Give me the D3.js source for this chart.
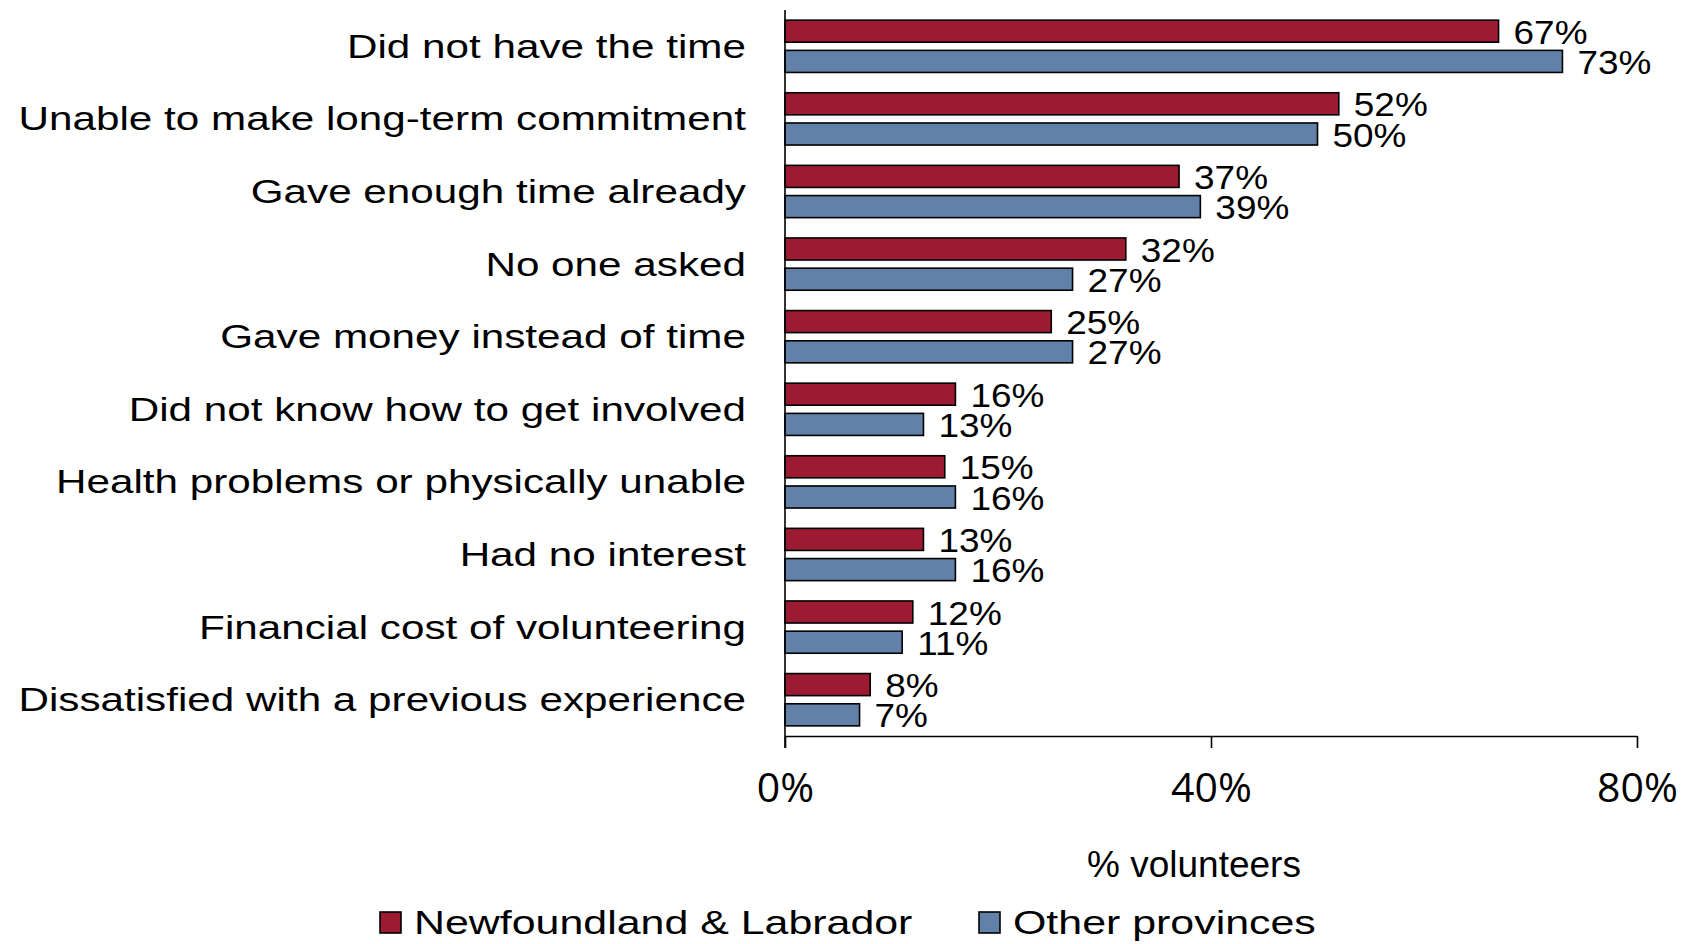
<!DOCTYPE html>
<html>
<head>
<meta charset="utf-8">
<script src="https://cdn.jsdelivr.net/npm/d3@7"></script>
<style>
  html, body { margin: 0; padding: 0; background: #fff; }
  svg { display: block; }
  text { font-family: "Liberation Sans", Arial, sans-serif; fill: #000; }
</style>
</head>
<body>
<svg id="chart" width="1683" height="944"></svg>
<script>
const categories = [
  "Did not have the time",
  "Unable to make long-term commitment",
  "Gave enough time already",
  "No one asked",
  "Gave money instead of time",
  "Did not know how to get involved",
  "Health problems or physically unable",
  "Had no interest",
  "Financial cost of volunteering",
  "Dissatisfied with a previous experience"
];
const seriesNames = ["Newfoundland & Labrador", "Other provinces"];
const nlValues = [67, 52, 37, 32, 25, 16, 15, 13, 12, 8];
const otherValues = [73, 50, 39, 27, 27, 13, 16, 16, 11, 7];
const xTicks = [0, 40, 80];
const xTickLabels = ["0%", "40%", "80%"];
const axisTitle = "% volunteers";
const colors = ["#9D1B32", "#6181A9"];

const svg = d3.select("#chart");
const plotLeft = 785, plotRight = 1637, plotTop = 10, plotBottom = 736;

const x = d3.scaleLinear().domain([0, 80]).range([plotLeft, plotRight]);
const y = d3.scaleBand().domain(categories).range([plotTop, plotBottom])
  .paddingInner(0.28).paddingOuter(0.14);
const ySub = d3.scaleBand().domain(seriesNames).range([0, y.bandwidth()])
  .paddingInner(0.27);

const data = categories.map((c, i) => ({
  cat: c,
  vals: [
    { s: seriesNames[0], v: nlValues[i], color: colors[0] },
    { s: seriesNames[1], v: otherValues[i], color: colors[1] }
  ]
}));

// bars
const groups = svg.selectAll("g.cat").data(data).join("g")
  .attr("class", "cat")
  .attr("transform", d => `translate(0,${y(d.cat)})`);

groups.selectAll("rect").data(d => d.vals).join("rect")
  .attr("x", x(0))
  .attr("y", d => ySub(d.s))
  .attr("width", d => x(d.v) - x(0))
  .attr("height", ySub.bandwidth())
  .attr("fill", d => d.color)
  .attr("stroke", "#000")
  .attr("stroke-width", 1.6);

// value labels
const lblSize = 33;
groups.selectAll("text.val").data(d => d.vals).join("text")
  .attr("class", "val")
  .attr("transform", d => `translate(${x(d.v) + 15},${ySub(d.s) + ySub.bandwidth() / 2 + lblSize * 0.35 + 1}) scale(1.12,1)`)
  .style("font-size", lblSize + "px")
  .text(d => d.v + "%");

// category labels
const catSize = 33;
svg.selectAll("text.catlbl").data(categories).join("text")
  .attr("class", "catlbl")
  .attr("text-anchor", "end")
  .attr("transform", d => `translate(746,${y(d) + y.bandwidth() / 2 + catSize * 0.35}) scale(1.28,1)`)
  .style("font-size", catSize + "px")
  .text(d => d);

// axes
const xAxis = d3.axisBottom(x).tickValues(xTicks).tickSize(12)
  .tickFormat((d, i) => xTickLabels[i]).tickSizeOuter(0);
const gx = svg.append("g").attr("transform", `translate(0,${plotBottom})`).call(xAxis);
gx.select(".domain").attr("stroke", "#000").attr("stroke-width", 1.6);
gx.selectAll(".tick line").attr("stroke", "#000").attr("stroke-width", 1.6);
gx.selectAll(".tick text")
  .attr("y", 66).attr("dy", 0)
  .style("font-family", "'Open Sans', sans-serif")
  .style("font-size", "41px")
  .attr("fill", "#000");

const yAxis = d3.axisLeft(y).tickSize(0).tickFormat("");
const gy = svg.append("g").attr("transform", `translate(${plotLeft},0)`).call(yAxis);
gy.select(".domain").attr("stroke", "#000").attr("stroke-width", 1.6)
  .attr("d", `M0,${plotTop}V${plotBottom + 12}`);

// axis title
svg.append("text")
  .attr("x", 1194).attr("y", 877)
  .attr("text-anchor", "middle")
  .style("font-size", "37px")
  .text(axisTitle);

// legend
const legendX = [380, 979];
const leg = svg.selectAll("g.leg").data(seriesNames).join("g")
  .attr("class", "leg")
  .attr("transform", (d, i) => `translate(${legendX[i]},912)`);
leg.append("rect")
  .attr("width", 21).attr("height", 21)
  .attr("fill", (d, i) => colors[i])
  .attr("stroke", "#000").attr("stroke-width", 1.6);
leg.append("text")
  .attr("transform", "translate(34,22) scale(1.3,1)")
  .style("font-size", "33px")
  .text(d => d);
</script>
</body>
</html>
